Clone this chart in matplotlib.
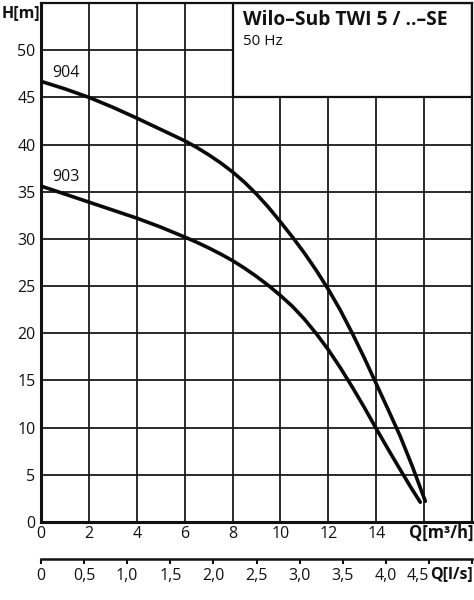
import matplotlib
matplotlib.use("Agg")
import matplotlib.pyplot as plt
from matplotlib.patches import Rectangle

plt.rcParams['font.family'] = ['Open Sans', 'DejaVu Sans']

# ---- data ----
q_904 = [0, 1, 2, 3, 4, 5, 6, 6.5, 7, 7.5, 8, 8.5, 9, 9.5, 10, 10.5, 11, 11.5, 12, 12.5,
         13, 13.5, 14, 14.5, 15, 15.5, 16.05]
h_904 = [46.7, 45.9, 45.0, 43.95, 42.8, 41.6, 40.4, 39.7, 38.92, 38.06, 37.1, 36.0, 34.75,
         33.35, 31.8, 30.2, 28.5, 26.65, 24.65, 22.45, 20.0, 17.4, 14.65, 11.9, 9.1, 5.95, 2.2]
q_903 = [0, 1, 2, 3, 4, 5, 6, 6.5, 7, 7.5, 8, 8.5, 9, 9.5, 10, 10.5, 11, 11.5, 12, 12.5,
         13, 13.5, 14, 14.5, 15, 15.5, 15.84]
h_903 = [35.6, 34.75, 33.9, 33.05, 32.2, 31.25, 30.2, 29.65, 29.05, 28.4, 27.7, 26.9, 26.02,
         25.06, 24.0, 22.85, 21.5, 19.95, 18.25, 16.35, 14.3, 12.15, 9.9, 7.7, 5.55, 3.45, 2.1]

x_ticks = [0, 2, 4, 6, 8, 10, 12, 14, 16, 18]
x_labels = ['0', '2', '4', '6', '8', '10', '12', '14', '', '']
y_ticks = [0, 5, 10, 15, 20, 25, 30, 35, 40, 45, 50, 55]
y_labels = ['0', '5', '10', '15', '20', '25', '30', '35', '40', '45', '50', '']
ls_ticks = [0, 0.5, 1.0, 1.5, 2.0, 2.5, 3.0, 3.5, 4.0, 4.5, 5.0]
ls_labels = ['0', '0,5', '1,0', '1,5', '2,0', '2,5', '3,0', '3,5', '4,0', '4,5', '']

title = 'Wilo\u2013Sub TWI 5 / ..\u2013SE'
subtitle = '50 Hz'

W, H = 474, 600
fig = plt.figure(figsize=(W / 100, H / 100), dpi=100)

def fx(px):
    return px / W

def fy(py):
    return 1 - py / H

L, R, T, B = 41, 472, 3, 522
ax = fig.add_axes([fx(L), fy(B), (R - L) / W, (B - T) / H])
ax.set_xlim(0, 18)
ax.set_ylim(0, 55)
ax.set_xticks(x_ticks)
ax.set_xticklabels(x_labels)
ax.set_yticks(y_ticks)
ax.set_yticklabels(y_labels)
ax.tick_params(axis='both', length=0, labelsize=11.5, colors='#111111')
ax.tick_params(axis='y', pad=4)
ax.tick_params(axis='x', pad=3)
ax.set_axisbelow(True)
ax.grid(True, color='#1a1a1a', linewidth=1.3)
for s in ['left', 'bottom']:
    ax.spines[s].set_linewidth(2.2)
for s in ['top', 'right']:
    ax.spines[s].set_linewidth(1.6)
for s in ax.spines.values():
    s.set_color('#111111')

# title box
ax.add_patch(Rectangle((8, 45), 10, 10, facecolor='white', edgecolor='#111111',
                       linewidth=1.6, zorder=1.5))
ax.text(8.42, 54.3, title, fontsize=13.9, fontweight='bold', ha='left', va='top',
        color='#111111', zorder=3)
ax.text(8.42, 51.7, subtitle, fontsize=11, ha='left', va='top', color='#111111', zorder=3)

ax.plot(q_904, h_904, color='#0a0a0a', linewidth=2.6, solid_capstyle='round',
        solid_joinstyle='round', zorder=4)
ax.plot(q_903, h_903, color='#0a0a0a', linewidth=2.6, solid_capstyle='round',
        solid_joinstyle='round', zorder=4)
ax.text(1.05, 47.6, '904', fontsize=11.5, ha='center', va='center', color='#111111')
ax.text(1.05, 36.6, '903', fontsize=11.5, ha='center', va='center', color='#111111')

fig.text(fx(2), fy(13), 'H[m]', fontsize=11.5, fontweight='bold', ha='left', va='center',
         color='#111111')
fig.text(fx(473), fy(533), 'Q[m\u00b3/h]', fontsize=12, fontweight='bold', ha='right',
         va='center', color='#111111')

# secondary l/s axis
ax2 = fig.add_axes([fx(L), fy(559), (R - L) / W, 0.0001])
ax2.set_xlim(0, 5)
ax2.set_ylim(0, 1)
ax2.set_yticks([])
for s in ['left', 'right', 'top']:
    ax2.spines[s].set_visible(False)
ax2.spines['bottom'].set_linewidth(1.8)
ax2.spines['bottom'].set_color('#111111')
ax2.set_xticks(ls_ticks)
ax2.set_xticklabels(ls_labels)
ax2.tick_params(axis='x', direction='out', length=3.5, width=1.5, pad=3,
                labelsize=11.5, colors='#111111')
ax2.get_xticklabels()[9].set_horizontalalignment('right')
ax2.patch.set_visible(False)
fig.text(fx(473), fy(574), 'Q[l/s]', fontsize=11.5, fontweight='bold', ha='right',
         va='center', color='#111111')

fig.savefig('out.png', dpi=100, facecolor='white')
